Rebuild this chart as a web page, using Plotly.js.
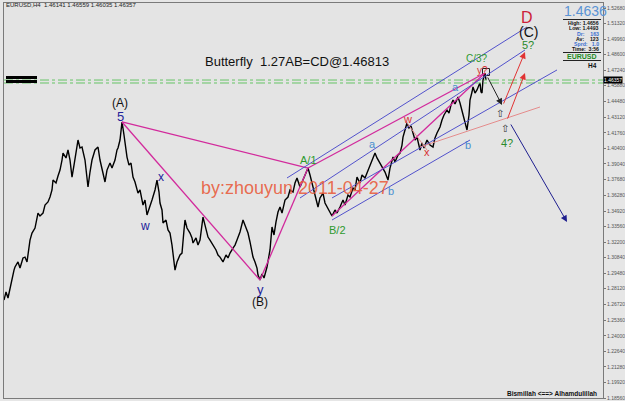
<!DOCTYPE html>
<html><head><meta charset="utf-8">
<script src="https://cdn.plot.ly/plotly-3.0.1.min.js"></script>
<style>html,body{margin:0;padding:0;background:#e6e6e6;overflow:hidden}#chart{width:625px;height:401px}</style>
</head><body><div id="chart"></div>
<script>
// ---------- DATA (bar index, price) ----------
const barIndex = [4,6,8,10,12,14,15,18,20,23,25,27,30,32,35,37,38,40,43,45,48,50,52,53,56,58,60,62,63,66,68,70,72,74,76,78,80,82,85,88,90,92,95,98,100,102,105,107,110,112,115,117,118,120,122,124,127,129,131,133,135,138,140,143,145,147,149,152,155,157,159,160,162,163,166,168,170,172,175,177,180,182,184,185,187,190,192,193,196,198,200,202,203,205,208,210,213,216,218,220,223,226,228,230,233,235,237,240,243,245,248,250,253,255,257,258,260,262,264,267,270,272,274,276,278,280,282,285,288,290,293,295,297,300,302,305,308,310,313,315,318,320,323,325,328,330,332,335,337,340,343,345,348,350,353,355,357,360,362,365,367,370,373,375,377,380,382,385,388,390,393,395,398,400,402,403,405,407,409,411,413,415,417,420,422,424,427,430,433,435,437,440,442,444,447,449,451,453,455,458,460,462,464,466,467,469,470,472,473,475,477,479,480,481,482,483,484,485,486];
const closePrice = [1.2713,1.2783,1.2731,1.2818,1.2906,1.2975,1.3002,1.3046,1.2993,1.3081,1.3089,1.3046,1.3238,1.3299,1.3343,1.3413,1.3474,1.3448,1.3474,1.3544,1.3571,1.3614,1.3676,1.3763,1.3737,1.3798,1.3850,1.3938,1.3999,1.3956,1.4026,1.3938,1.3789,1.3894,1.4026,1.4113,1.4043,1.4052,1.3938,1.3702,1.3833,1.3938,1.4026,1.4052,1.3938,1.3850,1.3746,1.3850,1.3912,1.3868,1.3938,1.4026,1.4043,1.4113,1.4271,1.4157,1.3964,1.3894,1.3912,1.3789,1.3746,1.3649,1.3676,1.3544,1.3588,1.3457,1.3518,1.3588,1.3676,1.3763,1.3658,1.3562,1.3501,1.3387,1.3413,1.3326,1.3299,1.3194,1.2975,1.3046,1.3107,1.3124,1.3326,1.3413,1.3343,1.3299,1.3256,1.3212,1.3256,1.3194,1.3238,1.3369,1.3439,1.3369,1.3264,1.3238,1.3194,1.3151,1.3107,1.3089,1.3046,1.3107,1.3081,1.3124,1.3168,1.3194,1.3238,1.3308,1.3413,1.3369,1.3299,1.3221,1.3089,1.3046,1.2993,1.2932,1.2888,1.2941,1.2906,1.3002,1.3151,1.3352,1.3282,1.3396,1.3483,1.3527,1.3474,1.3588,1.3614,1.3676,1.3658,1.3737,1.3781,1.3702,1.3746,1.3807,1.3868,1.3807,1.3702,1.3632,1.3527,1.3606,1.3649,1.3562,1.3518,1.3483,1.3448,1.3501,1.3474,1.3527,1.3588,1.3544,1.3632,1.3614,1.3693,1.3676,1.3789,1.3737,1.3807,1.3781,1.3824,1.3894,1.3956,1.3999,1.3956,1.3912,1.3877,1.3833,1.3763,1.3868,1.3964,1.3921,1.3982,1.3999,1.4069,1.4139,1.4201,1.4262,1.4218,1.4236,1.4174,1.4113,1.4139,1.4026,1.4087,1.4043,1.4113,1.4069,1.4052,1.4131,1.4174,1.4227,1.4288,1.4332,1.4376,1.4349,1.4419,1.4463,1.4428,1.4489,1.4437,1.4376,1.4306,1.4244,1.4201,1.4332,1.4463,1.4533,1.4577,1.4524,1.4551,1.4594,1.4612,1.4533,1.4524,1.4638,1.4682,1.4699,1.4638];

const tickPrices = [1.18560,1.19920,1.21280,1.22640,1.24000,1.25360,1.26720,1.28120,1.29480,1.30840,1.32200,1.33560,1.34920,1.36280,1.37680,1.39040,1.40400,1.41760,1.43120,1.44480,1.45880,1.47240,1.48600,1.49960,1.51320,1.52680];
const tickLabels = ['1.18560','1.19920','1.21280','1.22640','1.24000','1.25360','1.26720','1.28120','1.29480','1.30840','1.32200','1.33560','1.34920','1.36280','1.37680','1.39040','1.40400','1.41760','1.43120','1.44480','1.45880','1.47240','1.48600','1.49960','1.51320','1.52680'];

// Butterfly pattern points X, A, B, C, D
const patternBars = [122, 260, 308, 332, 485];
const patternPrices = [1.4271, 1.2888, 1.3868, 1.3448, 1.4699];
const patternLegs = [[0,1],[1,2],[0,2],[2,4],[3,4]];

// channel lines
const channelStartBar = [287, 300, 332, 332];
const channelStartPrice = [1.3781, 1.3606, 1.3606, 1.3413];
const channelEndBar = [527, 525, 557, 470];
const channelEndPrice = [1.5102, 1.4901, 1.4726, 1.4113];

// thin salmon lines
const salmonStartBar = [420, 407];
const salmonStartPrice = [1.4052, 1.4262];
const salmonEndBar = [540, 427];
const salmonEndPrice = [1.4402, 1.4026];

// projection arrows (from -> to)
const arrowFromBar = [487, 503, 507, 510];
const arrowFromPrice = [1.4673, 1.4419, 1.4288, 1.4262];
const arrowToBar = [502, 525, 525, 567];
const arrowToPrice = [1.4419, 1.4883, 1.4699, 1.3396];

// hollow up arrows
const hollowBars = [500, 505];
const hollowPrices = [1.4345, 1.4215];

// box marker at current top
const boxBar = [486];
const boxPrice = [1.4708];

// horizontal price lines
const hLinePrices = [1.4638, 1.4612];
const leftMarkPrices = [1.4660, 1.4625];

// wave labels
const waveLabels = ['(A)','5','w','x','y','(B)','A/1','B/2','a','b','w','x','a','b','y?','C/3?','D','(C)','5?','4?'];
const waveBars = [120,120,145,161,260,260,308,337,372,391,407,427,455,468,482,477,527,528,528,507];
const wavePrices = [1.4437,1.4323,1.3361,1.3789,1.2809,1.2696,1.3938,1.3326,1.4078,1.3667,1.4297,1.4008,1.4577,1.4069,1.4717,1.4822,1.5181,1.5058,1.4944,1.4090];

// ---------- STYLE / LAYOUT ----------
const W=625,H=401,ML=4,MR=22,MT=3,MB=3;
const PW=W-ML-MR, PH=H-MT-MB;
const px = x => (x-ML)/PW;
const py = y => (H-MB-y)/PH;

const waveColors = ['#111','#22229a','#22229a','#22229a','#22229a','#111','#2e9a2e','#2e9a2e','#4a8fd0','#4a8fd0','#d83030','#d83030','#4a8fd0','#4a8fd0','#d83030','#2e9a2e','#cc1f3a','#111','#2a8a2a','#2a8a2a'];
const waveSizes = [12,13,12,12,13,12,11,11,11,11,11,11,11,11,10,10,16,14,11,11];

const FONT = 'Liberation Sans, Arial, sans-serif';
const shapes = [];
hLinePrices.forEach(p => shapes.push({type:'line', xref:'paper', x0:0, x1:1, yref:'y', y0:p, y1:p, line:{color:'#66c466', width:1, dash:'dashdot'}}));
leftMarkPrices.forEach(p => shapes.push({type:'line', xref:'x', x0:6, x1:37, yref:'y', y0:p, y1:p, line:{color:'#000', width:3}}));
patternLegs.forEach(([a,b]) => shapes.push({type:'line', x0:patternBars[a], y0:patternPrices[a], x1:patternBars[b], y1:patternPrices[b], line:{color:'#d22a9c', width:1.3}}));
channelStartBar.forEach((b,i) => shapes.push({type:'line', x0:b, y0:channelStartPrice[i], x1:channelEndBar[i], y1:channelEndPrice[i], line:{color:'#5252cc', width:1}}));
salmonStartBar.forEach((b,i) => shapes.push({type:'line', x0:b, y0:salmonStartPrice[i], x1:salmonEndBar[i], y1:salmonEndPrice[i], line:{color:'#e48c8c', width:1}}));
// info panel rules
[[19.5,'#222'],[52.5,'#222'],[60.5,'#222']].forEach(([y,c]) => shapes.push({type:'line', xref:'paper', yref:'paper', x0:px(563), x1:px(601), y0:py(y), y1:py(y), line:{color:c, width:1}}));

const annotations = [];
waveLabels.forEach((t,i) => annotations.push({x:waveBars[i], y:wavePrices[i], text:t, showarrow:false, xanchor:'center', yanchor:'middle', font:{family:FONT, size:waveSizes[i], color:waveColors[i]}}));
const arrowColors = ['#222','#e03333','#e03333','#1f1f8f'];
arrowFromBar.forEach((b,i) => annotations.push({x:arrowToBar[i], y:arrowToPrice[i], ax:b, ay:arrowFromPrice[i], axref:'x', ayref:'y', text:'', showarrow:true, arrowhead:2, arrowsize:1.3, arrowwidth:1, arrowcolor:arrowColors[i]}));
hollowBars.forEach((b,i) => annotations.push({x:b, y:hollowPrices[i], text:'⇧', showarrow:false, xanchor:'center', yanchor:'middle', font:{family:'DejaVu Sans', size:10, color:'#333'}}));

const P = (x,y,text,opt={}) => annotations.push(Object.assign({xref:'paper', yref:'paper', x:px(x), y:py(y), text, showarrow:false, xanchor:'center', yanchor:'middle', borderpad:0}, opt));
P(297,61,'Butterfly  1.27AB=CD@1.46813',{font:{family:FONT,size:13,color:'#111'}});
P(295,188,'by:zhouyun 2011-04-27',{font:{family:FONT,size:18,color:'rgba(232,92,60,0.9)'}});
P(5,5,'EURUSD,H4  1.46141 1.46559 1.46035 1.46357',{xanchor:'left',font:{family:FONT,size:6,color:'#222'}});
P(598,393,'<b>Bismillah &lt;==&gt; Alhamdulillah</b>',{xanchor:'right',font:{family:FONT,size:6.5,color:'#111'}});
P(563,11,'1.4636',{xanchor:'left',font:{family:FONT,size:14,color:'#5a93d4'}});
const panelRows = [['<b>High: 1.4656</b>','#111'],['<b>Low: 1.4493</b>','#111'],['<b>Dr:    163</b>','#3a6fd0'],['<b>Av:    123</b>','#111'],['<b>Sprd:   1.0</b>','#3a6fd0'],['<b>Time:  3:56</b>','#111']];
panelRows.forEach(([t,c],i) => P(600, 23 + i*5.3, t, {xanchor:'right', font:{family:FONT,size:5.2,color:c}}));
P(582,56.5,'<b>EURUSD</b>',{font:{family:FONT,size:7,color:'#1e8a1e'}});
P(598,65.5,'<b>H4</b>',{xanchor:'right',font:{family:FONT,size:6.5,color:'#111'}});
annotations.push({xref:'paper', x:1, xanchor:'left', yref:'y', y:1.46357, yanchor:'middle', text:'1.46357', showarrow:false, bgcolor:'#000', borderpad:0, font:{family:FONT,size:5,color:'#fff'}});

const traces = [
  {x:barIndex, y:closePrice, type:'scatter', mode:'lines', line:{color:'#000', width:1.4}, hoverinfo:'skip'},
  {x:boxBar, y:boxPrice, type:'scatter', mode:'markers', marker:{symbol:'square-open', size:7, color:'#222', line:{width:1}}, hoverinfo:'skip'}
];

const layout = {
  width:W, height:H, margin:{l:ML, r:MR, t:MT, b:MB},
  paper_bgcolor:'#e6e6e6', plot_bgcolor:'#e4e4e4', showlegend:false,
  xaxis:{range:[4,603], showgrid:false, zeroline:false, showticklabels:false, ticks:'', showline:true, mirror:true, linecolor:'#7a7a7a', linewidth:1},
  yaxis:{range:[1.1856,1.53118], side:'right', showgrid:false, zeroline:false, tickvals:tickPrices, ticktext:tickLabels, ticks:'outside', ticklen:2, tickcolor:'#777', tickfont:{family:FONT, size:5, color:'#555'}, ticklabelstandoff:0, showline:true, mirror:true, linecolor:'#7a7a7a', linewidth:1},
  shapes, annotations
};
Plotly.newPlot('chart', traces, layout, {staticPlot:true, displayModeBar:false});
</script></body></html>
